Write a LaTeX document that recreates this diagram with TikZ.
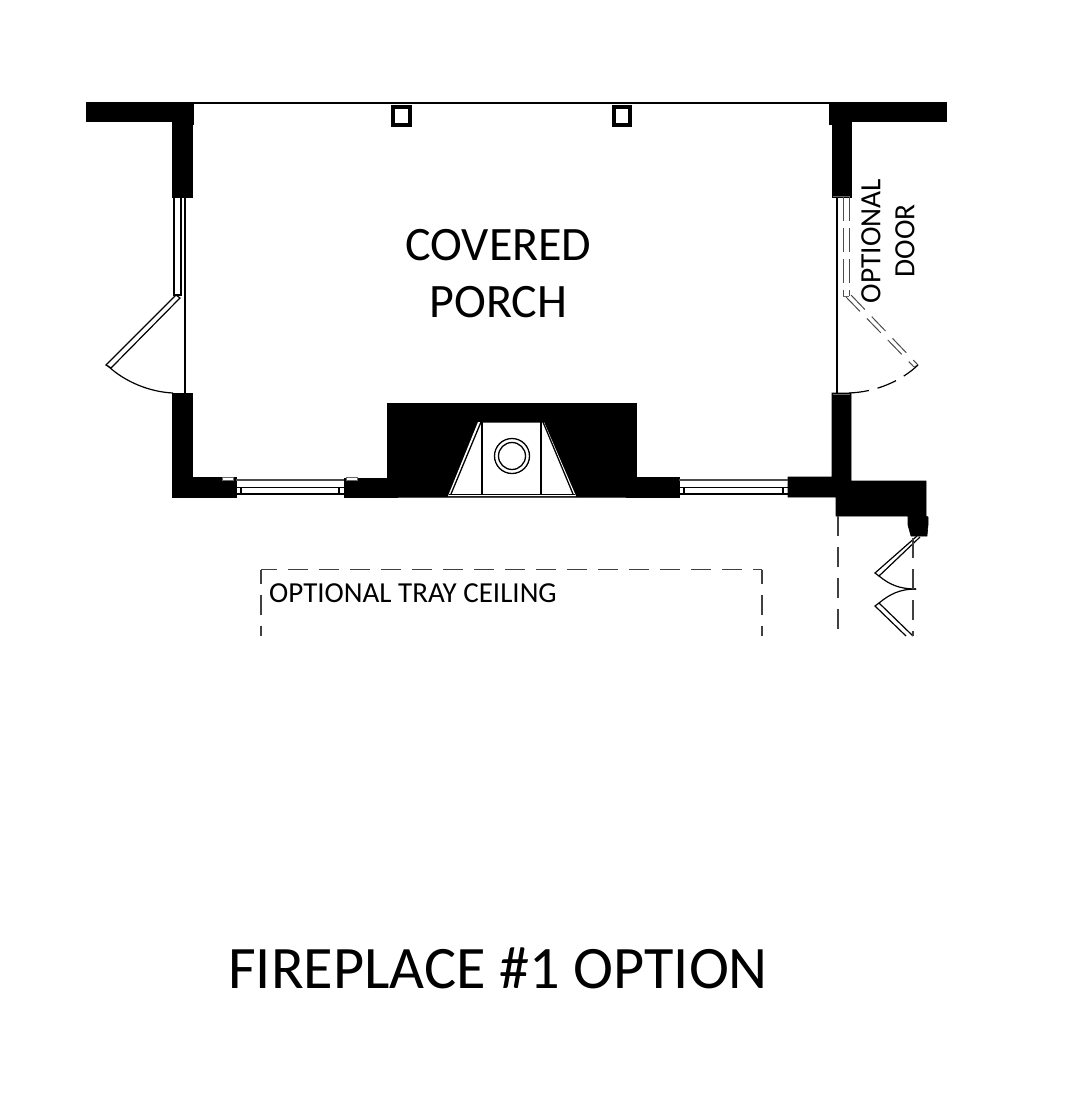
\documentclass[tikz,border=0pt]{standalone}
\usepackage{fontspec}
\setmainfont{Carlito}
\usetikzlibrary{calc}

\tikzset{
    wall/.style={fill=black, draw=black, line width=0.6pt},
    glass/.style={draw=black, line width=1.2pt},
    hidden/.style={draw=black!75, line width=1.2pt, dash pattern=on 20pt off 11pt},
    faint/.style={draw=black!70, line width=1pt, dash pattern=on 24pt off 7pt},
    plantext/.style={inner sep=0pt, text=black}
}

\begin{document}
\begin{tikzpicture}[x=1pt, y=-1pt]

    \useasboundingbox (0,0) rectangle (1080,1120);

    % Porch beam along the top
    \draw[line width=1.2pt] (192,103) -- (832,103);

    % Posts
    \draw[line width=3.6pt] (393,107) rectangle (410,125);
    \draw[line width=3.6pt] (614,107) rectangle (630,125);

    % Left wall with the corner
    \fill[wall] (86,102) -- (193,102) -- (193,124) -- (192,124) -- (192,197) -- (172,197) -- (172,121) -- (86,121) -- cycle;
    \fill[wall] (172,393) -- (192,393) -- (192,477) -- (236,477) -- (236,497) -- (172,497) -- cycle;

    % Right wall with the corner
    \fill[wall] (829,102) -- (946,102) -- (946,121) -- (851,121) -- (851,197) -- (832,197) -- (832,124) -- (829,124) -- cycle;
    \fill[wall] (832,393) -- (851,393) -- (851,481) -- (926,481) -- (926,516) -- (928,517) -- (928,525) -- (927,536) -- (911,536) -- (908,525) -- (908,516) -- (836,516) -- (836,497) -- (788,497) -- (788,477) -- (832,477) -- cycle;

    % Fireplace block and the wall stubs beside it
    \fill[wall] (387,403) -- (636,403) -- (636,477) -- (679,477) -- (679,497) -- (574,497) -- (450,497) -- (344,497) -- (344,478) -- (387,478) -- cycle;

    % Firebox
    \fill[white] (448,496) -- (478,422) -- (544,422) -- (576,496) -- cycle;
    \draw[line width=1.3pt] (451,494) -- (481,422) -- (543,422) -- (573,494);
    \draw[line width=1.3pt] (449,494.5) -- (575,494.5);
    \draw[line width=1.2pt] (482,422) -- (482,494);
    \draw[line width=1.2pt] (541,422) -- (541,494);
    \draw[line width=1.3pt] (512,456) circle (17.5);
    \draw[line width=1.3pt] (512,456) circle (13.5);

    % Left door, side light and swing
    \draw[glass] (185,197) -- (185,393);
    \draw[glass] (174,197) rectangle (181,295);
    \draw[glass] (181,197) -- (187,197);
    \draw[glass] (176,295) -- (180,298) -- (111,368) -- (106,365) -- cycle;
    \draw[line width=1.2pt] (108,366) .. controls (125,382) and (150,392) .. (173,393);

    % Optional door on the right wall
    \draw[glass] (837,197) -- (837,393);
    \draw[faint] (843,197) -- (843,296);
    \draw[faint] (849,197) -- (849,296);
    \draw[draw=black!60, line width=1pt] (833,196) -- (850,196);
    \draw[draw=black!60, line width=1pt] (833,394) -- (850,394);
    \draw[draw=black!60, line width=1pt] (843,296) -- (849,296);
    \draw[faint, dash pattern=on 20pt off 10pt] (846,297) -- (914,367);
    \draw[faint, dash pattern=on 20pt off 10pt] (851,295) -- (918,365);
    \draw[draw=black!60, line width=1pt] (914,367) -- (918,365);
    \draw[line width=1.2pt, dash pattern=on 20pt off 9pt] (849,393) .. controls (875,392) and (900,382) .. (918,365);

    % Bottom windows
    \foreach \xa/\xb in {236/344, 679/788}{
        \draw[line width=1.1pt, draw=black!70] (\xa,480) -- (\xb,480);
        \draw[line width=1.6pt] (\xa,487.5) -- (\xb,487.5);
        \draw[line width=1.6pt] (\xa,494) -- (\xb,494);
        \draw[line width=1.2pt] (\xa+5,487.5) -- (\xa+5,494);
        \draw[line width=1.2pt] (\xb-5,487.5) -- (\xb-5,494);
    }
    \draw[draw=black!60, line width=1pt, fill=white] (222,477.5) rectangle (233,480);
    \draw[draw=black!60, line width=1pt, fill=white] (346,477.5) rectangle (357,480);

    % Bifold door in the lower corner
    \draw[glass] (917,536) -- (875,573) -- (879,576) -- (920,537);
    \draw[glass] (906,636) -- (875,606) -- (879,603) -- (913,636);
    \draw[line width=1.2pt] (879,576) .. controls (890,585) and (900,589) .. (916,589);
    \draw[line width=1.2pt] (879,603) .. controls (890,594) and (900,589) .. (916,589);

    % Dashed lines of the floor above
    \draw[hidden] (838,516) -- (838,636);
    \draw[hidden] (913,538) -- (913,636);
    \draw[hidden, dash phase=4pt] (261,569.5) -- (762,569.5);
    \draw[hidden, dash phase=6pt] (261,569.5) -- (261,636);
    \draw[hidden, dash phase=6pt] (762,569.5) -- (762,636);

    % Labels
    \node[plantext, font=\fontsize{48}{57}\selectfont, align=center] (porch) at (498.5,274) {COVERED\\PORCH};
    \node[plantext, font=\fontsize{29}{34}\selectfont, anchor=west] (tray) at (269,593) {OPTIONAL TRAY CEILING};
    \node[plantext, font=\fontsize{29.4}{34}\selectfont, rotate=90] (optdoor) at (871,241) {OPTIONAL};
    \node[plantext, font=\fontsize{29.4}{34}\selectfont, rotate=90] (door) at (905,241) {DOOR};
    \node[plantext, font=\fontsize{60.3}{66}\selectfont, anchor=west] (title) at (228,968) {FIREPLACE \#1 OPTION};

\end{tikzpicture}
\end{document}
